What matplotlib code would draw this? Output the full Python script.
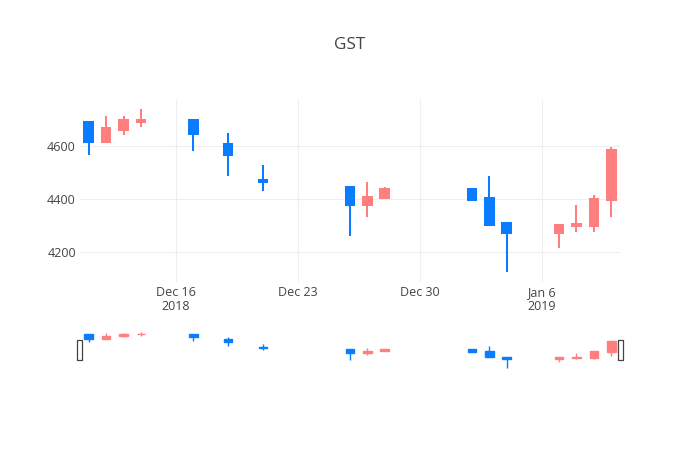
import numpy as np
import matplotlib
matplotlib.use("Agg")
import matplotlib.pyplot as plt
import matplotlib.dates as mdates
from matplotlib.patches import Rectangle

# daily OHLC
dates = ['2018-12-11', '2018-12-12', '2018-12-13', '2018-12-14', '2018-12-17',
         '2018-12-19', '2018-12-21', '2018-12-26', '2018-12-27', '2018-12-28',
         '2019-01-02', '2019-01-03', '2019-01-04', '2019-01-07', '2019-01-08',
         '2019-01-09', '2019-01-10']
opens = [4691, 4614, 4660, 4689, 4697, 4606, 4473, 4444, 4379, 4404,
         4439, 4404, 4310, 4274, 4297, 4298, 4396]
highs = [4691, 4710, 4710, 4738, 4697, 4647, 4526, 4444, 4463, 4446,
         4443, 4488, 4310, 4304, 4379, 4416, 4596]
lows = [4564, 4610, 4641, 4670, 4579, 4488, 4429, 4261, 4333, 4404,
        4398, 4304, 4126, 4216, 4277, 4277, 4332]
closes = [4616, 4666, 4697, 4697, 4645, 4565, 4464, 4379, 4409, 4439,
          4398, 4304, 4274, 4304, 4305, 4401, 4585]

inc_color = '#ff7f7f'
dec_color = '#0a7cff'
text_color = '#444444'
grid_color = '#eeeeee'

plt.rcParams['font.family'] = ['Open Sans', 'DejaVu Sans']

x = mdates.date2num(np.array(dates, dtype='datetime64[D]'))
o = np.array(opens, float)
h = np.array(highs, float)
l = np.array(lows, float)
c = np.array(closes, float)
cols = [inc_color if cc > oo else dec_color for oo, cc in zip(o, c)]

xlim = (x[0] - 0.5, x[-1] + 0.5)
ylim = (4088, 4772)

W, H = 700, 450
fig = plt.figure(figsize=(7, 4.5), dpi=100)


def candles(ax, lw):
    ax.vlines(x, l, h, colors=cols, linewidth=lw, zorder=2)
    bottom = np.minimum(o, c)
    height = np.maximum(np.abs(c - o), 0.5)
    ax.bar(x, height, width=0.5, bottom=bottom, color=cols, edgecolor=cols,
           linewidth=lw, zorder=3)


# main plot
ax = fig.add_axes([80 / W, (H - 282) / H, 540 / W, 182 / H])
candles(ax, 1.45)
ax.set_xlim(xlim)
ax.set_ylim(ylim)
ax.set_yticks([4200, 4400, 4600])
ticks = mdates.date2num(np.array(['2018-12-16', '2018-12-23', '2018-12-30', '2019-01-06'],
                                 dtype='datetime64[D]'))
ax.set_xticks(ticks)
ax.set_xticklabels(['Dec 16\n2018', 'Dec 23', 'Dec 30', 'Jan 6\n2019'], linespacing=1.1)
ax.grid(True, color=grid_color, linewidth=0.75)
ax.set_axisbelow(True)
for s in ax.spines.values():
    s.set_visible(False)
ax.tick_params(length=0, labelsize=9, labelcolor=text_color, pad=3)
ax.tick_params(axis='y', pad=3)

# range slider
rs = fig.add_axes([80 / W, (H - 370) / H, 540 / W, 40.5 / H])
candles(rs, 1.0)
rs.set_xlim(xlim)
rs.set_ylim(ylim)
rs.set_xticks([])
rs.set_yticks([])
for s in rs.spines.values():
    s.set_visible(False)

for hx in (77, 618):
    fig.add_artist(Rectangle((hx / W, (H - 360) / H), 4.5 / W, 20 / H,
                             transform=fig.transFigure, facecolor='white',
                             edgecolor='#444444', linewidth=0.9, joinstyle='round'))

fig.text(0.5, 1 - 45 / H, 'GST', ha='center', va='center', fontsize=12.3, color=text_color)

fig.savefig('out.png', dpi=100)
